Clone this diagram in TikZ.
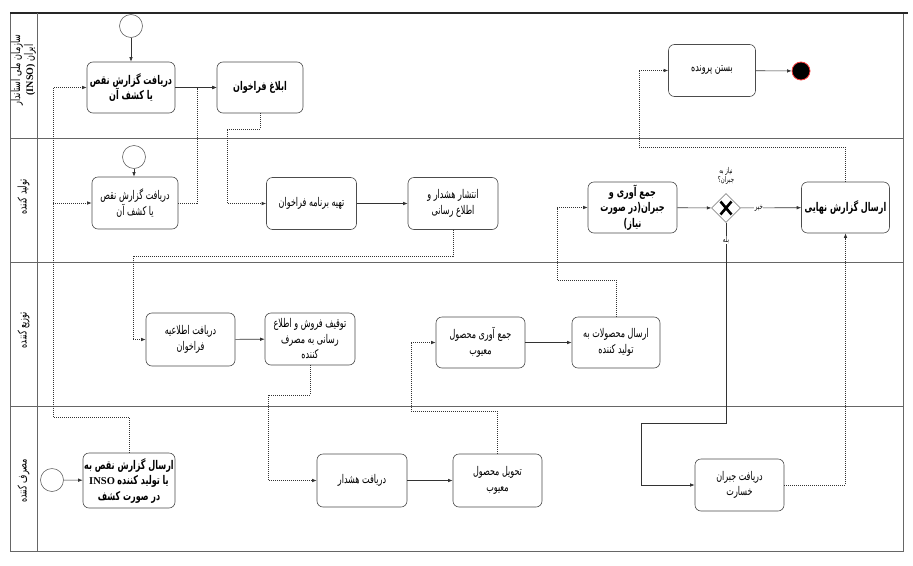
\documentclass[tikz,border=0pt]{standalone}
\usepackage{fontspec}
\usetikzlibrary{arrows.meta,shapes.geometric,calc}
\newfontfamily\arabicfont[Script=Arabic,FakeStretch=0.67]{DejaVu Sans}
\newfontfamily\latinserif{Liberation Serif}
\TeXXeTstate=1
\newcommand{\fatext}[1]{\beginR #1\endR}
\newcommand{\taskfont}{\arabicfont\fontsize{12}{15.5}\selectfont}
\newcommand{\tinyfa}{\arabicfont\fontsize{8}{9}\selectfont}
\begin{document}
\begin{tikzpicture}[x=1pt,y=-1pt,
  task/.style={draw=black!70, rounded corners=6pt, line width=0.6pt, fill=white, align=center, font=\taskfont, inner sep=1pt, minimum width=89pt, minimum height=52pt},
  startev/.style={circle, draw=black!60, fill=white, minimum size=23pt, inner sep=0pt, line width=0.6pt},
  endev/.style={circle, draw=red!75, fill=black, minimum size=18pt, inner sep=0pt, line width=0.8pt},
  flow/.style={-{Latex[length=4.5pt,width=3.5pt]}, draw=black!80, line width=0.6pt},
  msg/.style={flow, dash pattern=on 1pt off 1pt},
  lane/.style={draw=black!60, line width=0.7pt},
  lanelbl/.style={rotate=90, align=center, font=\arabicfont\fontsize{12}{13}\selectfont},
  lbl/.style={font=\tinyfa, inner sep=0.5pt, align=center}
]
\useasboundingbox (0,0) rectangle (913,565);
% pool frame and lanes
\draw[lane] (10,13) rectangle (903,551);
\draw[black!85, line width=1.1pt] (10,13) -- (908,13);
\draw[lane] (37,13) -- (37,551);
\draw[lane] (10,138) -- (903,138);
\draw[lane] (10,262) -- (903,262);
\draw[lane] (10,406) -- (903,406);
% lane labels
\node[lanelbl] (L1) at (23.5,70) {\fatext{سازمان ملی استاندار}\\\fatext{ایران \beginL{\latinserif\bfseries\fontsize{10}{12}\selectfont(INSO)}\endL}};
\node[lanelbl] (L2) at (23.5,197) {\fatext{تولید کننده}};
\node[lanelbl] (L3) at (23.5,330) {\fatext{توزیع کننده}};
\node[lanelbl] (L4) at (23.5,481) {\fatext{مصرف کننده}};
% lane 1
\node[startev] (S1) at (131,26) {};
\node[task, minimum width=88pt, minimum height=51pt] (A1) at (131,87.5) {\bfseries\fatext{دریافت گزارش نقص}\\\bfseries\fatext{یا کشف آن}};
\node[task, minimum width=86pt, minimum height=51pt] (A2) at (260,87.5) {\bfseries\fatext{ابلاغ فراخوان}};
\node[task, minimum width=87pt] (CL) at (712,70.5) {\fatext{بستن پرونده}};
\node[endev] (E) at (801,71) {};
% lane 2
\node[startev] (S2) at (134,157) {};
\node[task, minimum width=86pt] (B1) at (135,203) {\fatext{دریافت گزارش نقص}\\\fatext{یا کشف آن}};
\node[task, minimum width=90pt] (B2) at (311.5,203.5) {\fatext{تهیه برنامه فراخوان}};
\node[task, minimum width=90pt] (B3) at (453,203.5) {\fatext{انتشار هشدار و}\\\fatext{اطلاع رسانی}};
\node[task, minimum width=89pt, minimum height=51pt] (B4) at (632.5,207.5) {\bfseries\fatext{جمع آوری و}\\\bfseries\fatext{جبران(در صورت}\\\bfseries\fatext{نیاز)}};
\node[diamond, draw=black!45, fill=white, minimum width=29pt, minimum height=29pt, inner sep=0pt, line width=0.6pt] (GW) at (726,208) {};
\draw[line width=2.6pt] ($(GW)+(-5.5,-6.5)$) -- ($(GW)+(5.5,6.5)$);
\draw[line width=2.6pt] ($(GW)+(-5.5,6.5)$) -- ($(GW)+(5.5,-6.5)$);
\node[lbl] (GWq) at (726,176) {\fatext{نیاز به}\\\fatext{جبران؟}};
\node[task, minimum width=88pt, minimum height=51pt] (B5) at (845.5,207.5) {\bfseries\fatext{ارسال گزارش نهایی}};
% lane 3
\node[task, minimum width=89pt, minimum height=53pt] (C1) at (190.5,339.5) {\fatext{دریافت اطلاعیه}\\\fatext{فراخوان}};
\node[task, minimum width=90pt] (C2) at (310,339) {\fatext{توقیف فروش و اطلاع}\\\fatext{رسانی به مصرف}\\\fatext{کننده}};
\node[task, minimum width=89pt, minimum height=51pt] (C3) at (480.5,342.5) {\fatext{جمع آوری محصول}\\\fatext{معیوب}};
\node[task, minimum width=88pt, minimum height=51pt] (C4) at (616,342.5) {\fatext{ارسال محصولات به}\\\fatext{تولید کننده}};
% lane 4
\node[startev] (S4) at (52,480) {};
\node[task, minimum width=92pt, minimum height=55pt] (D1) at (129,480.5) {\bfseries\fatext{ارسال گزارش نقص به}\\{\latinserif\bfseries\fontsize{10.5}{12}\selectfont INSO} \bfseries\fatext{یا تولید کننده}\\\bfseries\fatext{در صورت کشف}};
\node[task, minimum width=90pt, minimum height=53pt] (D2) at (362,480.5) {\fatext{دریافت هشدار}};
\node[task, minimum width=89pt, minimum height=53pt] (D3) at (497.5,480.5) {\fatext{تحویل محصول}\\\fatext{معیوب}};
\node[task, minimum width=89pt] (D4) at (739.5,485) {\fatext{دریافت جبران}\\\fatext{خسارت}};
% junction coordinates
\coordinate (j1) at (53,417);
\coordinate (k1) at (227,129);
\coordinate (k2) at (133,256);
\coordinate (k3) at (268,395);
\coordinate (k4) at (411,411);
\coordinate (k5) at (557,280);
\coordinate (k6) at (641,423);
\coordinate (k7) at (639,147);
% sequence flows
\draw[flow] (S1) -- (A1);
\draw[flow] (A1) -- (A2);
\draw[flow] (S2.south) -- (S2.south |- B1.north);
\draw[flow] (B2) -- (B3);
\draw[flow] (B4) -- (GW);
\draw[flow] (GW) -- node[lbl, fill=white, pos=0.3] (no) {\fatext{خیر}} (B5);
\draw[flow] (GW.south) |- (k6) |- (D4.west);
\node[lbl, fill=white] (yes) at (726,240) {\fatext{بله}};
\draw[flow] (C1) -- (C2);
\draw[flow] (C3) -- (C4);
\draw[flow] (S4) -- (D1);
\draw[flow] (D2) -- (D3);
\draw[flow] (CL) -- (E);
% message flows (dotted)
\draw[msg] (B1.east) -- ++(19,0) |- (A2.west);
\draw[msg] (D1.north) |- (j1) |- (A1.west);
\draw[msg] (j1) |- (B1.west);
\draw[msg] (A2.south) |- (k1) |- (B2.west);
\draw[msg] (B3.south) |- (k2) |- (C1.west);
\draw[msg] (C2.south) |- (k3) |- (D2.west);
\draw[msg] (D3.north) |- (k4) |- (C3.west);
\draw[msg] (C4.north) |- (k5) |- (B4.west);
\draw[msg] (D4.east) -| (B5.south);
\draw[msg] (B5.north) |- (k7) |- (CL.west);
\end{tikzpicture}
\end{document}
